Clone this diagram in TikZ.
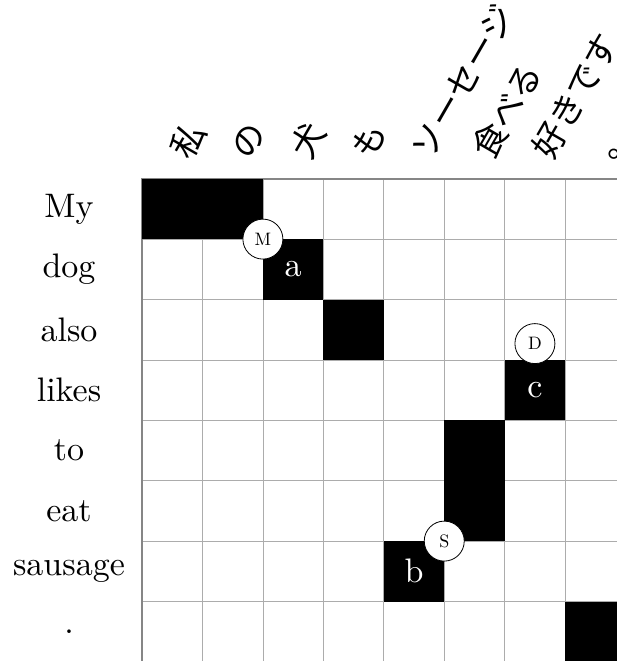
\documentclass[tikz,border=0pt]{standalone}
\usepackage{fontspec}
\newfontfamily\jp{Noto Sans CJK JP}
\begin{document}
\begin{tikzpicture}[x=1pt,y=-1pt,
  rowlab/.style={font=\fontsize{10}{12}\selectfont, scale=3.4, anchor=center, inner sep=0pt},
  collab/.style={font=\jp\fontsize{34}{40}\selectfont, rotate=60, anchor=base west, inner sep=0pt},
  celltext/.style={text=white, font=\fontsize{10}{12}\selectfont, scale=3.4, inner sep=0pt},
  tag/.style={circle, draw=black, fill=white, minimum size=40pt, inner sep=0pt, line width=0.8pt, font=\fontsize{10}{12}\selectfont},
  gridline/.style={draw=gray!65, line width=0.8pt},
  border/.style={draw=gray!95, line width=1.6pt}]
\useasboundingbox (0,0) rectangle (617,661);
\clip (0,0) rectangle (617,661);
% row labels
\foreach \t [count=\k] in {My,dog,also,likes,to,eat,sausage,.}
  \node[rowlab] (row\k) at (69, {178.7+60.4*(\k-0.5)}) {\t};
% column labels
\foreach \t [count=\k] in {私,の,犬,も,ソーセージ,食べる,好きです,。}
  \node[collab] (col\k) at ({142+60.45*(\k-0.5)+17.7}, 161.2) {\t};
\begin{scope}[shift={(142,178.7)}, x=60.45pt, y=-60.4pt]
  \foreach \i in {1,...,8} \draw[gridline] (\i,0) -- (\i,8.3);
  \foreach \j in {1,...,8} \draw[gridline] (0,\j) -- (8.3,\j);
  \draw[border] (0,8.3) -- (0,0) -- (8.3,0);
  \fill[black] (0,0) rectangle (2,1);
  \fill[black] (2,1) rectangle (3,2);
  \fill[black] (3,2) rectangle (4,3);
  \fill[black] (6,3) rectangle (7,4);
  \fill[black] (5,4) rectangle (6,6);
  \fill[black] (4,6) rectangle (5,7);
  \fill[black] (7,7) rectangle (8,8);
  \node[celltext] (a) at (2.5,1.5) {a};
  \node[celltext] (c) at (6.5,3.5) {c};
  \node[celltext] (b) at (4.5,6.5) {b};
  \node[tag] (M) at (2,1) {\scalebox{1.8}{M}};
  \node[tag] (S) at (5,6) {\scalebox{1.8}{S}};
  \node[tag] (D) at (6.5,2.73) {\scalebox{1.8}{D}};
\end{scope}
\end{tikzpicture}
\end{document}
